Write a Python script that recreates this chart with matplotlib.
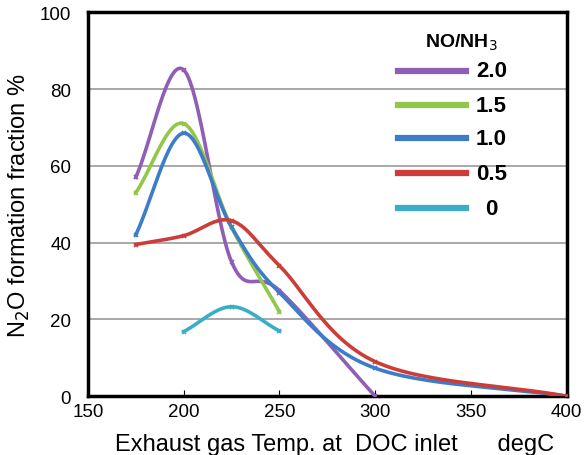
import numpy as np
import matplotlib.pyplot as plt
from matplotlib.lines import Line2D

plt.rcParams['font.family'] = ['Liberation Sans', 'DejaVu Sans']

# data (temperature degC -> N2O fraction %)
ratios = ['2.0', '1.5', '1.0', '0.5', '0']
colors = ['#8e5fb5', '#92c84a', '#3d7cc9', '#cc3d3a', '#3aaec8']

temp_20 = [175, 200, 225, 250, 300]
n2o_20 = [57, 85, 35, 27.5, 0]

temp_15 = [175, 200, 225, 250]
n2o_15 = [53, 71, 44, 22]

temp_10 = [175, 200, 225, 250, 300, 400]
n2o_10 = [42, 68.5, 44, 27, 7.3, 0]

temp_05 = [175, 200, 225, 250, 300, 400]
n2o_05 = [39.5, 41.8, 45.7, 34, 9, 0]

temp_00 = [200, 225, 250]
n2o_00 = [16.8, 23.3, 17]

series = [(temp_20, n2o_20), (temp_15, n2o_15), (temp_10, n2o_10),
          (temp_05, n2o_05), (temp_00, n2o_00)]


def smooth(x, y, n=30):
    # Catmull-Rom curve through the points, like Excel's smoothed line
    p = np.column_stack([x, y]).astype(float)
    p = np.vstack([2 * p[0] - p[1], p, 2 * p[-1] - p[-2]])
    out = []
    t = np.linspace(0, 1, n)[:, None]
    for i in range(1, len(p) - 2):
        p0, p1, p2, p3 = p[i - 1], p[i], p[i + 1], p[i + 2]
        seg = 0.5 * ((2 * p1) + (-p0 + p2) * t + (2 * p0 - 5 * p1 + 4 * p2 - p3) * t ** 2
                     + (-p0 + 3 * p1 - 3 * p2 + p3) * t ** 3)
        out.append(seg)
    s = np.vstack(out)
    return s[:, 0], s[:, 1]


fig = plt.figure(figsize=(5.86, 4.56), dpi=100)
ax = fig.add_axes([0.150, 0.129, 0.817, 0.842])

for (xs, ys), c in zip(series, colors):
    sx, sy = smooth(xs, ys)
    ax.plot(sx, sy, color=c, lw=2.6, zorder=3)
    ax.plot(xs, ys, ls='none', marker='x', ms=3, mew=1.2, color=c, zorder=4)

ax.set_xlim(150, 400)
ax.set_ylim(0, 100)
ax.set_xticks([150, 200, 250, 300, 350, 400])
ax.set_yticks([0, 20, 40, 60, 80, 100])
ax.yaxis.grid(True, color='#999999', lw=1.2)
ax.set_axisbelow(True)
for s in ax.spines.values():
    s.set_linewidth(2.5)
ax.tick_params(axis='x', direction='in', length=4, labelsize=13.5, pad=5)
ax.tick_params(axis='y', length=0, labelsize=13.5, pad=12)

ax.set_xlabel('Exhaust gas Temp. at  DOC inlet      degC', fontsize=17)
ax.xaxis.set_label_coords(0.516, -0.095)
ax.set_ylabel('N$_2$O formation fraction %', fontsize=17, labelpad=6)

# legend, drawn by hand to match the centred labels
ax.text(0.779, 0.924, 'NO/NH$_3$', transform=ax.transAxes, ha='center', va='center',
        fontsize=14, fontweight='bold')
leg_y = [0.848, 0.758, 0.672, 0.581, 0.490]
for ly, c, lab in zip(leg_y, colors, ratios):
    ax.add_line(Line2D([0.647, 0.789], [ly, ly], transform=ax.transAxes, color=c, lw=4.5, zorder=5))
    ax.text(0.843, ly, lab, transform=ax.transAxes, ha='center', va='center',
            fontsize=16, fontweight='bold')

fig.savefig('out.png', dpi=100)
